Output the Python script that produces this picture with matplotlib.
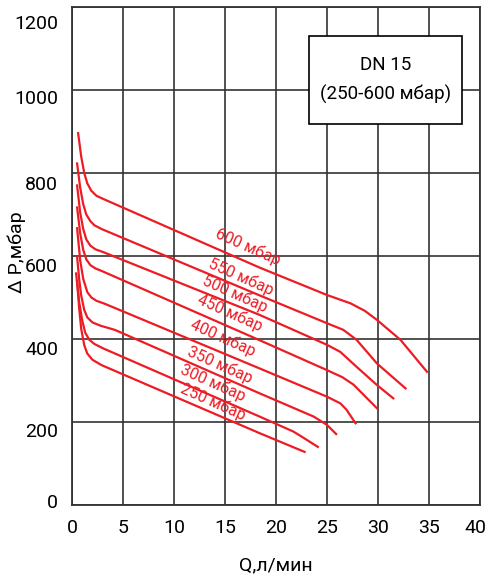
import matplotlib
matplotlib.use('Agg')
import matplotlib.pyplot as plt
import matplotlib.transforms as mtransforms
from matplotlib.patches import Rectangle

plt.rcParams['font.family'] = ['Roboto', 'DejaVu Sans']

RED = '#ED1C24'
GRID = '#333333'

# flow Q (l/min) and pressure drop (mbar) for each set pressure
q600 = [0.6, 0.9, 1.2, 1.5, 1.9, 2.4, 3.2, 18.4, 25.0, 27.3, 28.7, 29.9, 32.2, 34.8]
p600 = [896, 840, 800, 775, 757, 745, 736, 572, 506, 486, 468, 446, 398, 321]
q550 = [0.5, 0.8, 1.1, 1.4, 1.8, 2.2, 2.9, 18.4, 25.0, 26.6, 27.9, 29.9, 32.7]
p550 = [823, 765, 725, 700, 684, 674, 665, 505, 438, 422, 398, 341, 281]
q500 = [0.5, 0.8, 1.1, 1.4, 1.8, 2.3, 3.0, 18.4, 25.0, 26.3, 27.9, 29.9, 31.5]
p500 = [770, 705, 665, 640, 625, 616, 610, 458, 386, 369, 333, 289, 257]
q450 = [0.5, 0.8, 1.1, 1.4, 1.8, 2.3, 3.0, 18.4, 25.0, 26.5, 27.6, 29.9]
p450 = [717, 655, 615, 592, 578, 570, 563, 397, 325, 308, 290, 233]
q400 = [0.5, 0.8, 1.1, 1.5, 1.9, 2.4, 3.2, 18.4, 25.0, 26.3, 26.9, 27.8]
p400 = [667, 590, 545, 513, 500, 492, 485, 329, 261, 245, 230, 197]
q350 = [0.5, 0.7, 0.9, 1.2, 1.5, 2.0, 2.8, 4.2, 18.4, 23.7, 25.0, 25.9]
p350 = [598, 545, 505, 470, 452, 440, 432, 422, 269, 213, 193, 171]
q300 = [0.4, 0.7, 1.0, 1.3, 1.7, 2.2, 3.0, 18.4, 21.7, 22.5, 24.1]
p300 = [558, 490, 445, 415, 398, 388, 378, 213, 177, 165, 140]
q250 = [0.5, 0.7, 0.9, 1.2, 1.5, 2.0, 2.9, 18.4, 22.8]
p250 = [540, 475, 425, 385, 365, 350, 337, 173, 128]

curves = [(q600, p600), (q550, p550), (q500, p500), (q450, p450),
          (q400, p400), (q350, p350), (q300, p300), (q250, p250)]
names = ['600 мбар', '550 мбар', '500 мбар', '450 мбар',
         '400 мбар', '350 мбар', '300 мбар', '250 мбар']
label_x = [17.3, 16.6, 16.0, 15.5, 14.8, 14.5, 13.8, 13.8]
label_y = [622, 549, 508, 462, 402, 337, 294, 248]

x_ticks = list(range(0, 41, 5))
y_ticks = list(range(0, 1201, 200))

fig = plt.figure(figsize=(4.89, 5.77), dpi=100)
ax = fig.add_axes([72 / 489, 72 / 577, 408 / 489, 498 / 577])

ax.set_xlim(0, 40)
ax.set_ylim(0, 1200)
ax.set_xticks(x_ticks)
ax.set_yticks(y_ticks)
ax.grid(True, color=GRID, linewidth=1.2)
ax.set_axisbelow(True)
for s in ax.spines.values():
    s.set_color(GRID)
    s.set_linewidth(1.3)
ax.tick_params(length=0, labelsize=14, pad=10)

# y labels in the original sit a little below their grid lines
shifts = [-4, 8, 9, 9, 10, 7, 15]
for lab, dy in zip(ax.get_yticklabels(), shifts):
    lab.set_transform(lab.get_transform() +
                      mtransforms.ScaledTranslation(0, -dy / 100, fig.dpi_scale_trans))
# keep the last x label inside the picture
last = ax.get_xticklabels()[-1]
last.set_transform(last.get_transform() +
                   mtransforms.ScaledTranslation(-0.05, 0, fig.dpi_scale_trans))

for (q, p) in curves:
    ax.plot(q, p, color=RED, linewidth=1.6, solid_joinstyle='round')

for name, x, y in zip(names, label_x, label_y):
    ax.text(x, y, name, color=RED, fontsize=11.5, rotation=-24,
            ha='center', va='center', rotation_mode='anchor')

# legend box
box = Rectangle((23.2, 918), 15.0, 212, facecolor='white', edgecolor='black',
                linewidth=1.2, zorder=3)
ax.add_patch(box)
ax.text(30.7, 1060, 'DN 15', fontsize=13.5, ha='center', va='center', zorder=4)
ax.text(30.7, 990, '(250-600 мбар)', fontsize=13.5, ha='center', va='center', zorder=4)

ax.set_xlabel('Q,л/мин', fontsize=14, labelpad=14)
ax.set_ylabel('Δ P,мбар', fontsize=14)
ax.yaxis.set_label_coords(-0.113, 0.508)

fig.savefig('out.png', dpi=100)
